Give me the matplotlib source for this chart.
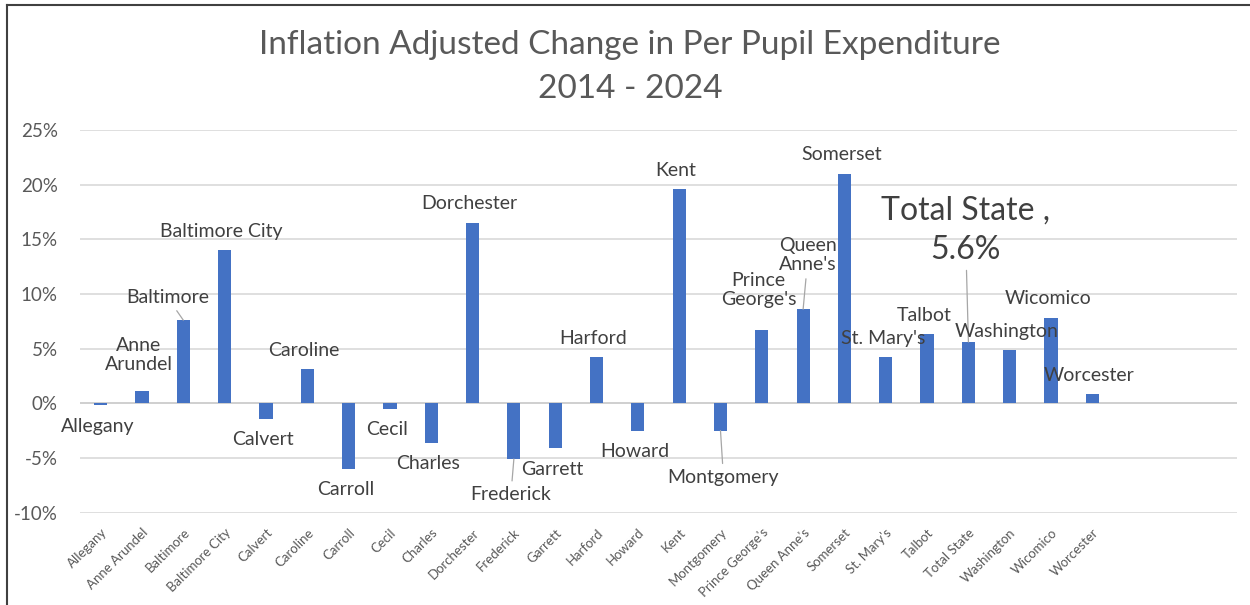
import matplotlib
matplotlib.use("Agg")
import matplotlib.pyplot as plt
from matplotlib.lines import Line2D

plt.rcParams['font.family'] = ['Lato', 'DejaVu Sans']

categories = ["Allegany", "Anne Arundel", "Baltimore", "Baltimore City", "Calvert",
              "Caroline", "Carroll", "Cecil", "Charles", "Dorchester", "Frederick",
              "Garrett", "Harford", "Howard", "Kent", "Montgomery", "Prince George's",
              "Queen Anne's", "Somerset", "St. Mary's", "Talbot", "Total State",
              "Washington", "Wicomico", "Worcester"]
values = [-0.2, 1.1, 7.6, 14.0, -1.4, 3.1, -6.0, -0.5, -3.6, 16.5, -5.1, -4.1, 4.2,
          -2.5, 19.6, -2.5, 6.7, 8.6, 21.0, 4.2, 6.3, 5.6, 4.85, 7.8, 0.8]
data_labels = ["Allegany", "Anne\nArundel", "Baltimore", "Baltimore City", "Calvert",
               "Caroline", "Carroll", "Cecil", "Charles", "Dorchester", "Frederick",
               "Garrett", "Harford", "Howard", "Kent", "Montgomery", "Prince\nGeorge's",
               "Queen\nAnne's", "Somerset", "St. Mary's", "Talbot", "Total State ,\n5.6%",
               "Washington", "Wicomico", "Worcester"]
yticks = [-10, -5, 0, 5, 10, 15, 20, 25]

# label offsets in pixels (layout), and which have leader lines
label_offsets = {
    "Anne Arundel": (-3, 36),
    "Baltimore": (-16, 23),
    "Frederick": (-3, -36),
    "Montgomery": (3, -47),
    "Prince George's": (-3, 40),
    "Queen Anne's": (5, 54),
    "Total State": (-3, 112),
}
leaders = {"Baltimore", "Frederick", "Montgomery", "Queen Anne's", "Total State"}

W, H = 1250, 605
fig = plt.figure(figsize=(W / 100, H / 100), dpi=100)
ax = fig.add_axes([80 / W, (H - 512.5) / H, (1237 - 80) / W, (512.5 - 130) / H])

blue = "#4472C4"
gray = "#595959"
x = list(range(len(categories)))
ax.bar(x, values, width=0.32, color=blue, zorder=3)

ax.set_xlim(-0.5, 27.5)
ax.set_ylim(-10, 25)
ax.set_yticks(yticks)
ax.set_yticklabels([f"{t}%" for t in yticks], fontsize=13.5, color=gray)
ax.yaxis.grid(True, color="#D9D9D9", linewidth=1.2, zorder=0)
ax.set_axisbelow(True)
for s in ax.spines.values():
    s.set_visible(False)
ax.tick_params(axis='y', length=0, pad=16)
ax.axhline(0, color="#D0D0D0", linewidth=1.4, zorder=2)

ax.set_xticks(x)
ax.set_xticklabels(categories, rotation=45, ha='right', rotation_mode='anchor',
                   fontsize=9.5, color=gray)
ax.tick_params(axis='x', length=0, pad=10)

for xi, v, cat, lab in zip(x, values, categories, data_labels):
    dx, dy = label_offsets.get(cat, (-3, 19 if v >= 0 else -21))
    big = cat == "Total State"
    fs = 23 if big else 14
    arrow = dict(arrowstyle='-', color="#A6A6A6", lw=0.9, shrinkA=2, shrinkB=0) if cat in leaders else None
    ax.annotate(lab, xy=(xi, v), xytext=(dx, dy), textcoords='offset pixels',
                ha='center', va='center', fontsize=fs, color="#404040",
                linespacing=1.4 if big else 1.15, arrowprops=arrow, zorder=4)

fig.text(0.504, (H - 67) / H, "Inflation Adjusted Change in Per Pupil Expenditure\n2014 - 2024",
         ha='center', va='center', fontsize=24, color=gray, linespacing=1.6)

# chart border (top and left visible)
fig.add_artist(Line2D([7 / W, 1.0], [(H - 5) / H, (H - 5) / H], color="#404040", lw=1.5,
                      transform=fig.transFigure))
fig.add_artist(Line2D([7 / W, 7 / W], [0, (H - 5) / H], color="#404040", lw=1.5,
                      transform=fig.transFigure))

fig.savefig("out.png", dpi=100)
